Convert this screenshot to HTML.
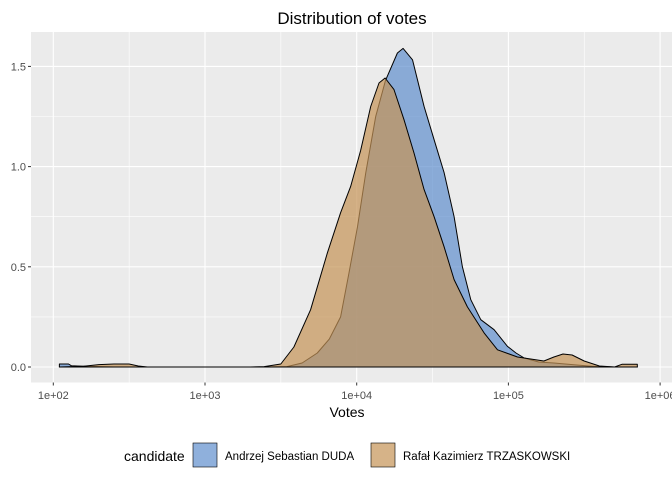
<!DOCTYPE html>
<html><head><meta charset="utf-8"><style>
body{margin:0;background:#fff;font-family:"Liberation Sans","Noto Sans CJK SC",sans-serif}
svg{display:block}
</style></head><body>
<svg id="c" width="672" height="480" xmlns="http://www.w3.org/2000/svg">
<text x="352" y="24" text-anchor="middle" font-size="17" fill="#000">Distribution of votes</text>
<rect x="31" y="32" width="641" height="350.5" fill="#EBEBEB"/>
<g id="grid"></g><g id="series"></g><g id="axes"></g>
<text x="347" y="417" text-anchor="middle" font-size="14" fill="#000">Votes</text>
<g>
<text x="124" y="461" font-size="14" fill="#000">candidate</text>
<rect x="193" y="443" width="24" height="24" fill="rgba(96,142,205,0.7)" stroke="#000" stroke-width="0.6"/>
<text x="225" y="460" font-size="11.5" fill="#000">Andrzej Sebastian DUDA</text>
<rect x="371" y="443" width="24" height="24" fill="rgba(196,147,85,0.7)" stroke="#000" stroke-width="0.6"/>
<text x="403" y="460" font-size="11.5" fill="#000">Rafał Kazimierz TRZASKOWSKI</text>
</g>
</svg>
<script>
const xTicks=[2,3,4,5,6];
const xTickLabels=["1e+02","1e+03","1e+04","1e+05","1e+06"];
const yTicks=[0,0.5,1.0,1.5];
const yTickLabels=["0.0","0.5","1.0","1.5"];
const dudaLogX=[2.04,2.1,2.12,2.2,2.4,3.0,3.4,3.54,3.64,3.74,3.82,3.894,3.949,4.005,4.06,4.125,4.19,4.268,4.306,4.368,4.444,4.51,4.576,4.642,4.697,4.752,4.818,4.906,4.994,5.05,5.104,5.2,5.3,5.45,5.55,5.7,5.85];
const dudaDensity=[0.015,0.015,0.006,0.004,0.0,0.0,0.0,0.002,0.02,0.07,0.14,0.25,0.47,0.70,0.97,1.25,1.43,1.567,1.59,1.533,1.30,1.134,0.97,0.75,0.50,0.336,0.236,0.186,0.103,0.07,0.045,0.025,0.02,0.01,0.004,0.0,0.0];
const trzLogX=[2.04,2.2,2.3,2.4,2.5,2.56,2.62,3.0,3.3,3.39,3.5,3.586,3.696,3.807,3.894,3.96,4.026,4.092,4.147,4.187,4.246,4.312,4.378,4.444,4.51,4.576,4.642,4.73,4.84,4.928,5.06,5.234,5.3,5.36,5.42,5.5,5.6,5.7,5.75,5.85];
const trzDensity=[0.0,0.004,0.012,0.015,0.015,0.005,0.0,0.0,0.0,0.002,0.015,0.10,0.286,0.57,0.77,0.90,1.08,1.30,1.417,1.442,1.384,1.234,1.068,0.885,0.75,0.60,0.436,0.30,0.17,0.086,0.05,0.03,0.05,0.065,0.06,0.03,0.005,0.0,0.014,0.014];

const NS="http://www.w3.org/2000/svg";
const px=l=>53.3+(l-2)*151.7;
const py=d=>367+(-d)*200.4;
function mk(tag,attrs,parent){const e=document.createElementNS(NS,tag);for(const k in attrs)e.setAttribute(k,attrs[k]);parent.appendChild(e);return e;}
const grid=document.getElementById('grid'),axes=document.getElementById('axes'),series=document.getElementById('series');
for(let i=0;i<yTicks.length-1;i++){const v=(yTicks[i]+yTicks[i+1])/2;const l=mk('line',{x1:31,x2:672,y1:py(v),y2:py(v),stroke:'#fff','stroke-width':0.6},grid);

}
for(let i=0;i<xTicks.length-1;i++){const v=(xTicks[i]+xTicks[i+1])/2;const l=mk('line',{x1:px(v),x2:px(v),y1:32,y2:382.5,stroke:'#fff','stroke-width':0.6},grid);

}
yTicks.forEach((v,i)=>{const l=mk('line',{x1:31,x2:672,y1:py(v),y2:py(v),stroke:'#fff','stroke-width':1.1},grid);


const t=mk('text',{x:26,y:py(v)+4,'text-anchor':'end','font-size':11,fill:'#4D4D4D'},axes);t.textContent=yTickLabels[i];


mk('line',{x1:28,x2:31,y1:py(v),y2:py(v),stroke:'#333'},axes);});
xTicks.forEach((v,i)=>{const l=mk('line',{x1:px(v),x2:px(v),y1:32,y2:382.5,stroke:'#fff','stroke-width':1.1},grid);


const t=mk('text',{x:px(v),y:399,'text-anchor':'middle','font-size':11,fill:'#4D4D4D'},axes);t.textContent=xTickLabels[i];


mk('line',{x1:px(v),x2:px(v),y1:382.5,y2:385.5,stroke:'#333'},axes);});
function area(xs,ds,fill,name){let d='M'+px(xs[0])+','+py(0);xs.forEach((x,i)=>{d+='L'+px(x).toFixed(1)+','+py(ds[i]).toFixed(1);});d+='L'+px(xs[xs.length-1])+','+py(0)+'Z';
const p=mk('path',{d:d,fill:fill,stroke:'#000','stroke-width':1,'stroke-linejoin':'round'},series);

}
area(dudaLogX,dudaDensity,'rgba(96,142,205,0.7)','density-duda');
area(trzLogX,trzDensity,'rgba(196,147,85,0.7)','density-trzaskowski');
</script>
</body></html>
